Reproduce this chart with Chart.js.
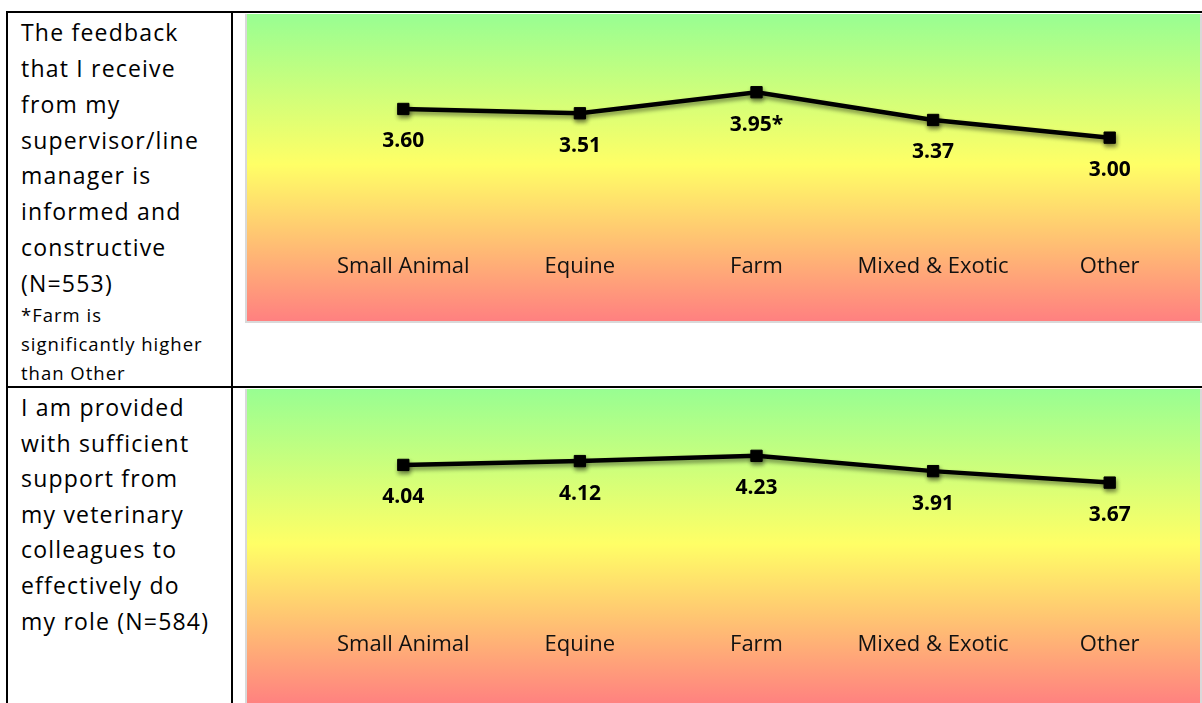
<!DOCTYPE html>
<html>
<head>
<meta charset="utf-8">
<script src="https://cdn.jsdelivr.net/npm/chart.js@4.4.1/dist/chart.umd.min.js"></script>
<style>
  html, body { margin: 0; padding: 0; background: #fff; }
  body { width: 1202px; height: 703px; overflow: hidden; position: relative; font-family: "Open Sans", sans-serif; color: #000; }
  .rule { position: absolute; background: #000; }
  .txt { position: absolute; left: 21px; white-space: nowrap; }
  .big { font-size: 23px; letter-spacing: 1.2px; }
  .small { font-size: 18.5px; line-height: 28.7px; letter-spacing: 1px; }
  .frame { position: absolute; left: 245px; border-left: 2px solid #d9d9d9; border-right: 2px solid #d9d9d9; border-bottom: 2px solid #d9d9d9; }
  canvas { display: block; }
</style>
</head>
<body>
  <!-- table rules -->
  <div class="rule" style="left:6px;top:11px;width:1196px;height:2px"></div>
  <div class="rule" style="left:6px;top:11px;width:2px;height:692px"></div>
  <div class="rule" style="left:231px;top:11px;width:2px;height:692px"></div>
  <div class="rule" style="left:6px;top:386px;width:1196px;height:2px"></div>

  <!-- row 1 question -->
  <div class="txt big" style="top:14.8px;line-height:35.9px">The feedback<br>that I receive<br>from my<br>supervisor/line<br>manager is<br>informed and<br>constructive<br>(N=553)</div>
  <div class="txt small" style="top:301.2px">*Farm is<br>significantly higher<br>than Other</div>

  <!-- row 2 question -->
  <div class="txt big" style="top:390px;line-height:35.6px">I am provided<br>with sufficient<br>support from<br>my veterinary<br>colleagues to<br>effectively do<br>my role (N=584)</div>

  <div class="frame" style="top:14px"><canvas id="feedbackChart" width="953" height="307"></canvas></div>
  <div class="frame" style="top:389px"><canvas id="supportChart" width="953" height="316"></canvas></div>

<script>
// Sector categories shared by both charts
const categories = ['Small Animal', 'Equine', 'Farm', 'Mixed & Exotic', 'Other'];

// Mean agreement scores (1–5 scale)
const feedbackScores = [3.60, 3.51, 3.95, 3.37, 3.00];
const feedbackMarks = ['', '', '*', '', ''];

const supportScores = [4.04, 4.12, 4.23, 3.91, 3.67];
const supportMarks = ['', '', '', '', ''];

const scaleMin = 1;
const scaleMax = 5;

// Green → yellow → red backdrop behind the whole chart
const backdrop = {
  id: 'backdrop',
  beforeDraw(chart) {
    const { ctx, width, height } = chart;
    const g = ctx.createLinearGradient(0, 0, 0, height);
    g.addColorStop(0, '#98fe92');
    g.addColorStop(0.49, '#ffff66');
    g.addColorStop(1, '#ff8080');
    ctx.save();
    ctx.fillStyle = g;
    ctx.fillRect(0, 0, width, height);
    ctx.restore();
  }
};

// Soft drop shadow under the line, then bold value labels below each point
const shadowAndLabels = {
  id: 'shadowAndLabels',
  beforeDatasetsDraw(chart) {
    const c = chart.ctx;
    c.save();
    c.shadowColor = 'rgba(0,0,0,0.45)';
    c.shadowBlur = 4;
    c.shadowOffsetX = 1;
    c.shadowOffsetY = 3;
  },
  afterDatasetsDraw(chart) {
    const c = chart.ctx;
    c.restore();
    const ds = chart.data.datasets[0];
    const meta = chart.getDatasetMeta(0);
    c.save();
    c.font = 'bold 21px "Open Sans"';
    c.fillStyle = '#000';
    c.textAlign = 'center';
    c.textBaseline = 'middle';
    meta.data.forEach((pt, i) => {
      const label = ds.data[i].toFixed(2) + (ds.marks[i] || '');
      c.fillText(label, pt.x, pt.y + 32.5);
    });
    c.restore();
  }
};

function makeChart(id, values, marks, padTop, padBottom, tickPad) {
  return new Chart(document.getElementById(id), {
    type: 'line',
    data: {
      labels: categories,
      datasets: [{
        data: values,
        marks: marks,
        borderColor: '#000',
        borderWidth: 4.5,
        tension: 0,
        pointStyle: 'rect',
        pointRadius: 8,
        pointBackgroundColor: '#000',
        pointBorderColor: '#000',
        pointBorderWidth: 1,
        clip: false
      }]
    },
    options: {
      responsive: false,
      animation: false,
      events: [],
      layout: { autoPadding: false, padding: { top: padTop, bottom: padBottom, left: 68, right: 2 } },
      plugins: { legend: { display: false }, tooltip: { enabled: false } },
      scales: {
        x: {
          offset: true,
          grid: { display: false, drawTicks: false },
          border: { display: false },
          ticks: {
            color: '#111',
            padding: tickPad,
            font: { family: '"Open Sans"', size: 22, lineHeight: 1.2 }
          }
        },
        y: {
          display: false,
          min: scaleMin,
          max: scaleMax
        }
      }
    },
    plugins: [backdrop, shadowAndLabels]
  });
}

makeChart('feedbackChart', feedbackScores, feedbackMarks, 28, 21.3, 20);
makeChart('supportChart', supportScores, supportMarks, 30, 25.7, 21.3);
</script>
</body>
</html>
